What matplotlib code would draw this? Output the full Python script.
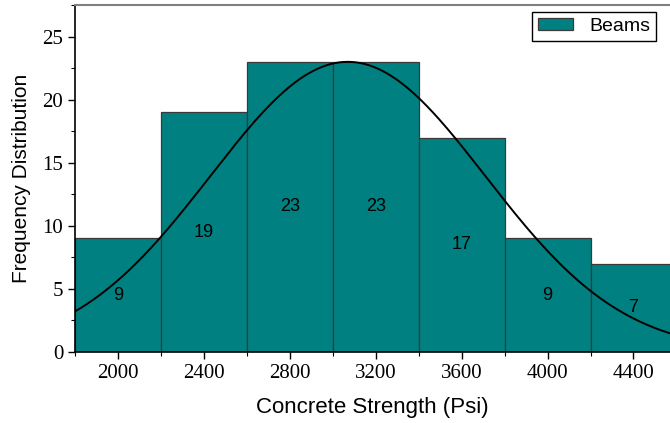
import numpy as np
import matplotlib.pyplot as plt
from matplotlib.ticker import MultipleLocator

# histogram data
bin_edges = [1800, 2200, 2600, 3000, 3400, 3800, 4200, 4600]
counts = [9, 19, 23, 23, 17, 9, 7]

# fitted normal curve
fit_mean = 3070
fit_std = 640
fit_peak = 23

plt.rcParams['font.family'] = ['Liberation Sans', 'DejaVu Sans']

fig = plt.figure(figsize=(6.7, 4.23), dpi=100)
ax = fig.add_axes([0.112, 0.168, 0.888, 0.820])

lefts = np.array(bin_edges[:-1])
widths = np.diff(bin_edges)
ax.bar(lefts, counts, width=widths, align='edge', color='#008080',
       edgecolor='#3a3a3a', linewidth=0.9, label='Beams', zorder=2)

for x, w, c in zip(lefts, widths, counts):
    ax.text(x + w / 2, c / 2, str(c), ha='center', va='center',
            fontsize=13, color='black', zorder=4)

xs = np.linspace(1800, 4600, 300)
ys = fit_peak * np.exp(-0.5 * ((xs - fit_mean) / fit_std) ** 2)
ax.plot(xs, ys, color='black', linewidth=1.4, zorder=3)

ax.set_xlim(1800, 4570)
ax.set_ylim(0, 27.5)
ax.xaxis.set_major_locator(MultipleLocator(400))
ax.xaxis.set_minor_locator(MultipleLocator(200))
ax.yaxis.set_major_locator(MultipleLocator(5))
ax.yaxis.set_minor_locator(MultipleLocator(2.5))
ax.set_xticks([2000, 2400, 2800, 3200, 3600, 4000, 4400])

ax.tick_params(which='major', direction='out', length=5, width=1, labelsize=15)
ax.tick_params(which='minor', direction='out', length=3, width=0.8)
for lab in ax.get_xticklabels() + ax.get_yticklabels():
    lab.set_fontfamily('Liberation Serif')

ax.spines['right'].set_visible(False)
ax.spines['top'].set_color('#808080')
ax.spines['top'].set_linewidth(1.5)
ax.spines['left'].set_linewidth(1.2)
ax.spines['bottom'].set_linewidth(1.2)

ax.set_xlabel('Concrete Strength (Psi)', fontsize=16, labelpad=10)
ax.set_ylabel('Frequency Distribution', fontsize=15, labelpad=8)

leg = ax.legend(loc='upper right', fontsize=14, fancybox=False,
                edgecolor='black', framealpha=1, borderpad=0.3,
                borderaxespad=0, handlelength=1.8, handleheight=0.6,
                bbox_to_anchor=(0.976, 0.98))
leg.get_frame().set_linewidth(1)

fig.savefig('out.png', dpi=100)
